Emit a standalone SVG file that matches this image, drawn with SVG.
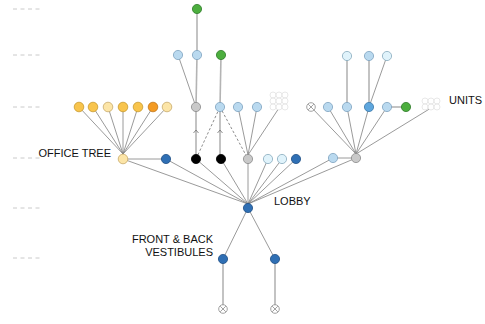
<svg xmlns="http://www.w3.org/2000/svg" width="485" height="324" viewBox="0 0 485 324">
  <style>
    .lvl { stroke: #bdbdbd; stroke-width: 0.8; stroke-dasharray: 4 3.5; }
    .e { stroke: #808080; stroke-width: 0.8; fill: none; }
    .v { stroke: #b4b4b4; stroke-width: 1.6; fill: none; }
    .d { stroke: #707070; stroke-width: 0.8; stroke-dasharray: 2.5 2; fill: none; }
    .chev { stroke: #707070; stroke-width: 0.8; fill: none; }
    .n { stroke-width: 0.8; }
    .gold { fill: #f8c44c; stroke: #c89a30; }
    .pale { fill: #fce5a7; stroke: #c8aa6a; }
    .orng { fill: #f39a22; stroke: #c0761a; }
    .lb { fill: #b9d9ef; stroke: #7ea2bf; }
    .cy { fill: #e0f3fb; stroke: #86aabd; }
    .mb { fill: #5ea6dd; stroke: #3c78a8; }
    .db { fill: #2f6fb4; stroke: #1f4f85; }
    .gr { fill: #4cae3e; stroke: #2e7b29; }
    .gy { fill: #c9c9c9; stroke: #8a8a8a; }
    .bk { fill: #000; stroke: #000; }
    .ghost { fill: #fff; stroke: #e2e2e2; stroke-width: 0.8; }
    .xc { fill: #fff; stroke: #8a8a8a; stroke-width: 0.8; }
    .lbl { font-family: "Liberation Sans", Arial, sans-serif; font-size: 11px; fill: #111; }
  </style>
  <defs>
    <g id="cross">
      <circle r="4.3" class="xc"/>
      <path d="M-2.8,-2.8 L2.8,2.8 M2.8,-2.8 L-2.8,2.8" stroke="#8a8a8a" stroke-width="0.8"/>
    </g>
  </defs>

  <!-- level guides -->
  <g id="levels">
    <line class="lvl" x1="13" y1="9" x2="41" y2="9"/>
    <line class="lvl" x1="13" y1="55" x2="41" y2="55"/>
    <line class="lvl" x1="13" y1="107" x2="41" y2="107"/>
    <line class="lvl" x1="13" y1="158" x2="41" y2="158"/>
    <line class="lvl" x1="13" y1="208" x2="41" y2="208"/>
    <line class="lvl" x1="13" y1="258" x2="41" y2="258"/>
  </g>

  <g id="connectors">
    <!-- vertical stacks -->
    <line class="v" x1="197" y1="9" x2="197" y2="55"/>
    <line class="v" x1="197" y1="55" x2="196" y2="107"/>
    <line class="v" x1="221" y1="55" x2="220" y2="107"/>
    <line class="v" x1="347" y1="56" x2="347" y2="107"/>
    <line class="v" x1="369" y1="56" x2="369" y2="107"/>
    <line class="v" x1="223" y1="259" x2="223" y2="309"/>
    <line class="v" x1="275" y1="259" x2="275" y2="309"/>
    <line class="e" x1="178" y1="55" x2="196" y2="107"/>
    <line class="e" x1="387" y1="56" x2="369" y2="107"/>
    <line class="v" x1="387" y1="107" x2="406" y2="107"/>

    <!-- office tree fan -->
    <line class="e" x1="79" y1="107" x2="123" y2="154"/>
    <line class="e" x1="93" y1="107" x2="123" y2="154"/>
    <line class="e" x1="108" y1="107" x2="123" y2="154"/>
    <line class="e" x1="123" y1="107" x2="123" y2="154"/>
    <line class="e" x1="138" y1="107" x2="123" y2="154"/>
    <line class="e" x1="153" y1="107" x2="123" y2="154"/>
    <line class="e" x1="167" y1="107" x2="123" y2="154"/>
    <line class="e" x1="123" y1="159" x2="166" y2="159"/>

    <!-- middle group -->
    <line class="v" x1="196" y1="159" x2="196" y2="107"/>
    <line class="v" x1="220" y1="159" x2="220" y2="107"/>
    <path class="chev" d="M193.5,133 L196,130 L198.5,133 M217.5,133 L220,130 L222.5,133"/>
    <line class="d" x1="196" y1="159" x2="220" y2="107"/>
    <line class="d" x1="220" y1="107" x2="248" y2="159"/>
    <line class="e" x1="238" y1="107" x2="248" y2="155"/>
    <line class="e" x1="257" y1="107" x2="248" y2="155"/>
    <line class="e" x1="279" y1="108" x2="248" y2="155"/>

    <!-- units fan -->
    <line class="e" x1="311" y1="107" x2="356" y2="154"/>
    <line class="e" x1="328" y1="107" x2="356" y2="154"/>
    <line class="e" x1="347" y1="107" x2="356" y2="154"/>
    <line class="e" x1="369" y1="107" x2="356" y2="154"/>
    <line class="e" x1="387" y1="107" x2="356" y2="154"/>
    <line class="e" x1="431" y1="108" x2="356" y2="154"/>
    <line class="e" x1="333" y1="158" x2="356" y2="158"/>

    <!-- into lobby -->
    <line class="e" x1="123" y1="159" x2="248" y2="204"/>
    <line class="e" x1="166" y1="159" x2="248" y2="204"/>
    <line class="e" x1="196" y1="159" x2="248" y2="204"/>
    <line class="e" x1="221" y1="159" x2="248" y2="204"/>
    <line class="e" x1="248" y1="159" x2="248" y2="204"/>
    <line class="e" x1="268" y1="159" x2="248" y2="204"/>
    <line class="e" x1="282" y1="159" x2="248" y2="204"/>
    <line class="e" x1="296" y1="159" x2="248" y2="204"/>
    <line class="e" x1="333" y1="158" x2="248" y2="204"/>
    <line class="e" x1="356" y1="158" x2="248" y2="204"/>

    <!-- vestibules -->
    <line class="e" x1="248" y1="208" x2="223" y2="259"/>
    <line class="e" x1="248" y1="208" x2="275" y2="259"/>
  </g>

  <!-- top stack -->
  <g id="top"><circle class="n gr" cx="197" cy="9" r="4.6"/></g>
  <g id="row2-left">
    <circle class="n lb" cx="178" cy="55" r="4.6"/>
    <circle class="n lb" cx="197" cy="55" r="4.6"/>
    <circle class="n gr" cx="221" cy="55" r="4.6"/>
  </g>
  <g id="row2-right">
    <circle class="n cy" cx="347" cy="56" r="4.6"/>
    <circle class="n lb" cx="369" cy="56" r="4.6"/>
    <circle class="n cy" cx="387" cy="56" r="4.6"/>
  </g>

  <!-- office leaves -->
  <g id="office-leaves">
    <circle class="n gold" cx="79" cy="107" r="4.8"/>
    <circle class="n gold" cx="93" cy="107" r="4.8"/>
    <circle class="n pale" cx="108" cy="107" r="4.8"/>
    <circle class="n gold" cx="123" cy="107" r="4.8"/>
    <circle class="n gold" cx="138" cy="107" r="4.8"/>
    <circle class="n orng" cx="153" cy="107" r="4.8"/>
    <circle class="n pale" cx="167" cy="107" r="4.8"/>
  </g>

  <g id="row3-middle">
    <circle class="n gy" cx="196" cy="107" r="4.6"/>
    <circle class="n lb" cx="220" cy="107" r="4.6"/>
    <circle class="n lb" cx="238" cy="107" r="4.6"/>
    <circle class="n lb" cx="257" cy="107" r="4.6"/>
  </g>
  <g id="ghost-grid-middle">
    <circle class="ghost" cx="273" cy="95" r="3"/>
    <circle class="ghost" cx="279" cy="95" r="3"/>
    <circle class="ghost" cx="285" cy="95" r="3"/>
    <circle class="ghost" cx="273" cy="101" r="3"/>
    <circle class="ghost" cx="279" cy="101" r="3"/>
    <circle class="ghost" cx="285" cy="101" r="3"/>
    <circle class="ghost" cx="273" cy="107" r="3"/>
    <circle class="ghost" cx="279" cy="107" r="3"/>
    <circle class="ghost" cx="285" cy="107" r="3"/>
  </g>

  <g id="row3-right">
    <use href="#cross" x="311" y="107"/>
    <circle class="n lb" cx="328" cy="107" r="4.6"/>
    <circle class="n lb" cx="347" cy="107" r="4.6"/>
    <circle class="n mb" cx="369" cy="107" r="4.6"/>
    <circle class="n lb" cx="387" cy="107" r="4.6"/>
    <circle class="n gr" cx="406" cy="107" r="4.6"/>
  </g>
  <g id="ghost-grid-units">
    <circle class="ghost" cx="425" cy="101" r="3"/>
    <circle class="ghost" cx="431" cy="101" r="3"/>
    <circle class="ghost" cx="437" cy="101" r="3"/>
    <circle class="ghost" cx="425" cy="107" r="3"/>
    <circle class="ghost" cx="431" cy="107" r="3"/>
    <circle class="ghost" cx="437" cy="107" r="3"/>
  </g>

  <g id="office-tree"><circle class="n pale" cx="123" cy="159" r="4.8"/></g>
  <g id="row4">
    <circle class="n db" cx="166" cy="159" r="4.6"/>
    <circle class="n bk" cx="196" cy="159" r="4.6"/>
    <circle class="n bk" cx="221" cy="159" r="4.6"/>
    <circle class="n gy" cx="248" cy="159" r="4.6"/>
    <circle class="n cy" cx="268" cy="159" r="4.6"/>
    <circle class="n cy" cx="282" cy="159" r="4.6"/>
    <circle class="n db" cx="296" cy="159" r="4.6"/>
  </g>
  <g id="units-hub">
    <circle class="n lb" cx="333" cy="158" r="4.6"/>
    <circle class="n gy" cx="356" cy="158" r="4.6"/>
  </g>

  <g id="lobby"><circle class="n db" cx="248" cy="208" r="4.6"/></g>
  <g id="vestibules">
    <circle class="n db" cx="223" cy="259" r="4.6"/>
    <circle class="n db" cx="275" cy="259" r="4.6"/>
  </g>
  <g id="exits">
    <use href="#cross" x="223" y="309"/>
    <use href="#cross" x="275" y="309"/>
  </g>

  <g id="labels">
    <text class="lbl" x="111" y="157" text-anchor="end">OFFICE TREE</text>
    <text class="lbl" x="449" y="104">UNITS</text>
    <text class="lbl" x="274" y="205">LOBBY</text>
    <text class="lbl" x="213" y="243" text-anchor="end">FRONT &amp; BACK</text>
    <text class="lbl" x="213" y="256" text-anchor="end">VESTIBULES</text>
  </g>
</svg>
